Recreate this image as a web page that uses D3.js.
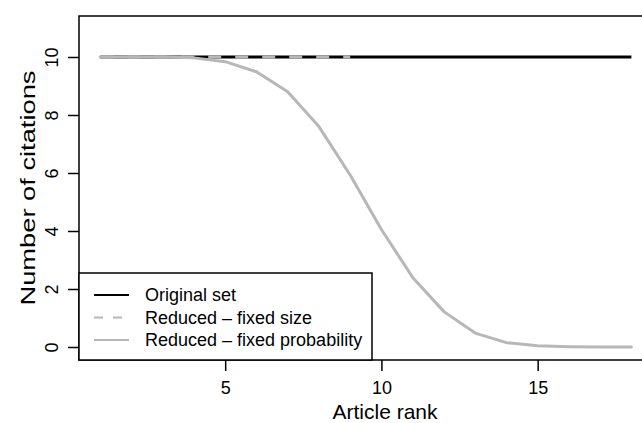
<!DOCTYPE html>
<html>
<head>
<meta charset="utf-8">
<script src="https://cdn.jsdelivr.net/npm/d3@7"></script>
<style>
  body { margin: 0; background: #fff; }
  svg text { font-family: "Liberation Sans", Arial, Helvetica, sans-serif; fill: #000; }
</style>
</head>
<body>
<div id="chart"><svg></svg></div>
<script>
// article ranks and citation counts
var ranks = [1, 2, 3, 4, 5, 6, 7, 8, 9, 10, 11, 12, 13, 14, 15, 16, 17, 18];
var original = [10, 10, 10, 10, 10, 10, 10, 10, 10, 10, 10, 10, 10, 10, 10, 10, 10, 10];
var fixedSize = [10, 10, 10, 10, 10, 10, 10, 10, 10];
var fixedProb = [10, 10, 10, 9.97, 9.84, 9.49, 8.8, 7.6, 5.93, 4.05, 2.4, 1.22, 0.48, 0.15, 0.04, 0.01, 0, 0];
var xTicks = [5, 10, 15];
var yTicks = [0, 2, 4, 6, 8, 10];
var legendLabels = ["Original set", "Reduced \u2013 fixed size", "Reduced \u2013 fixed probability"];

var W = 642, H = 423;
var box = { left: 79, right: 691, top: 16, bottom: 360 };
var grey = "#b7b7b7";

var svg = d3.select("#chart svg").
  attr("width", W).
  attr("height", H);

var x = d3.scaleLinear().domain([1, 18]).range([100.2, 631.4]);
var y = d3.scaleLinear().domain([0, 10]).range([347, 57]);

var line = d3.line().
  x(function(d) { return x(d[0]); }).
  y(function(d) { return y(d[1]); });

var zip = function(vals) {
  return vals.map(function(v, i) { return [ranks[i], v]; });
};

// series
svg.append("path").
  datum(zip(original)).
  attr("d", line).
  attr("fill", "none").
  attr("stroke", "#000").
  attr("stroke-width", 3);

svg.append("path").
  datum(zip(fixedSize)).
  attr("d", line).
  attr("fill", "none").
  attr("stroke", grey).
  attr("stroke-width", 3).
  attr("stroke-dasharray", "13,14");

svg.append("path").
  datum(zip(fixedProb)).
  attr("d", line).
  attr("fill", "none").
  attr("stroke", grey).
  attr("stroke-width", 3).
  attr("stroke-linejoin", "round").
  attr("stroke-linecap", "round");

// plot box
svg.append("rect").
  attr("x", box.left).
  attr("y", box.top).
  attr("width", box.right - box.left).
  attr("height", box.bottom - box.top).
  attr("fill", "none").
  attr("stroke", "#000").
  attr("stroke-width", 1.5);

// x axis
var gX = svg.append("g").
  attr("transform", "translate(0," + box.bottom + ")").
  call(d3.axisBottom(x).tickValues(xTicks).tickSize(11).tickPadding(10));
gX.select(".domain").remove();
gX.selectAll(".tick line").attr("stroke-width", 1.5);
gX.selectAll("text").
  style("font-size", "18px").
  attr("font-family", null);

// y axis, labels rotated like R's las = 0
var gY = svg.append("g").
  attr("transform", "translate(" + box.left + ",0)").
  call(d3.axisLeft(y).tickValues(yTicks).tickSize(11));
gY.select(".domain").remove();
gY.selectAll(".tick line").attr("stroke-width", 1.5);
gY.selectAll("text").
  attr("transform", "rotate(-90)").
  attr("x", 0).
  attr("y", -21).
  attr("dy", 0).
  attr("text-anchor", "middle").
  style("font-size", "18px");

// axis titles
svg.append("text").
  attr("x", 385).
  attr("y", 419).
  attr("text-anchor", "middle").
  style("font-size", "21px").
  text("Article rank");

svg.append("text").
  attr("transform", "translate(35," + ((box.top + box.bottom) / 2) + ") rotate(-90)").
  attr("text-anchor", "middle").
  attr("textLength", 235).
  attr("lengthAdjust", "spacingAndGlyphs").
  style("font-size", "21px").
  text("Number of citations");

// legend
var leg = svg.append("g");
leg.append("rect").
  attr("x", box.left).
  attr("y", 273).
  attr("width", 293).
  attr("height", box.bottom - 273).
  attr("fill", "#fff").
  attr("stroke", "#000").
  attr("stroke-width", 1.5);

var legStyles = [
  { color: "#000", dash: null },
  { color: grey, dash: "9,10" },
  { color: grey, dash: null }
];

legendLabels.forEach(function(lab, i) {
  var ly = 295 + i * 22.5;
  leg.append("line").
    attr("x1", 94).
    attr("x2", 129).
    attr("y1", ly).
    attr("y2", ly).
    attr("stroke", legStyles[i].color).
    attr("stroke-width", 2).
    attr("stroke-dasharray", legStyles[i].dash);
  leg.append("text").
    attr("x", 145).
    attr("y", ly).
    attr("dy", "0.35em").
    style("font-size", "18px").
    text(lab);
});
</script>
</body>
</html>
